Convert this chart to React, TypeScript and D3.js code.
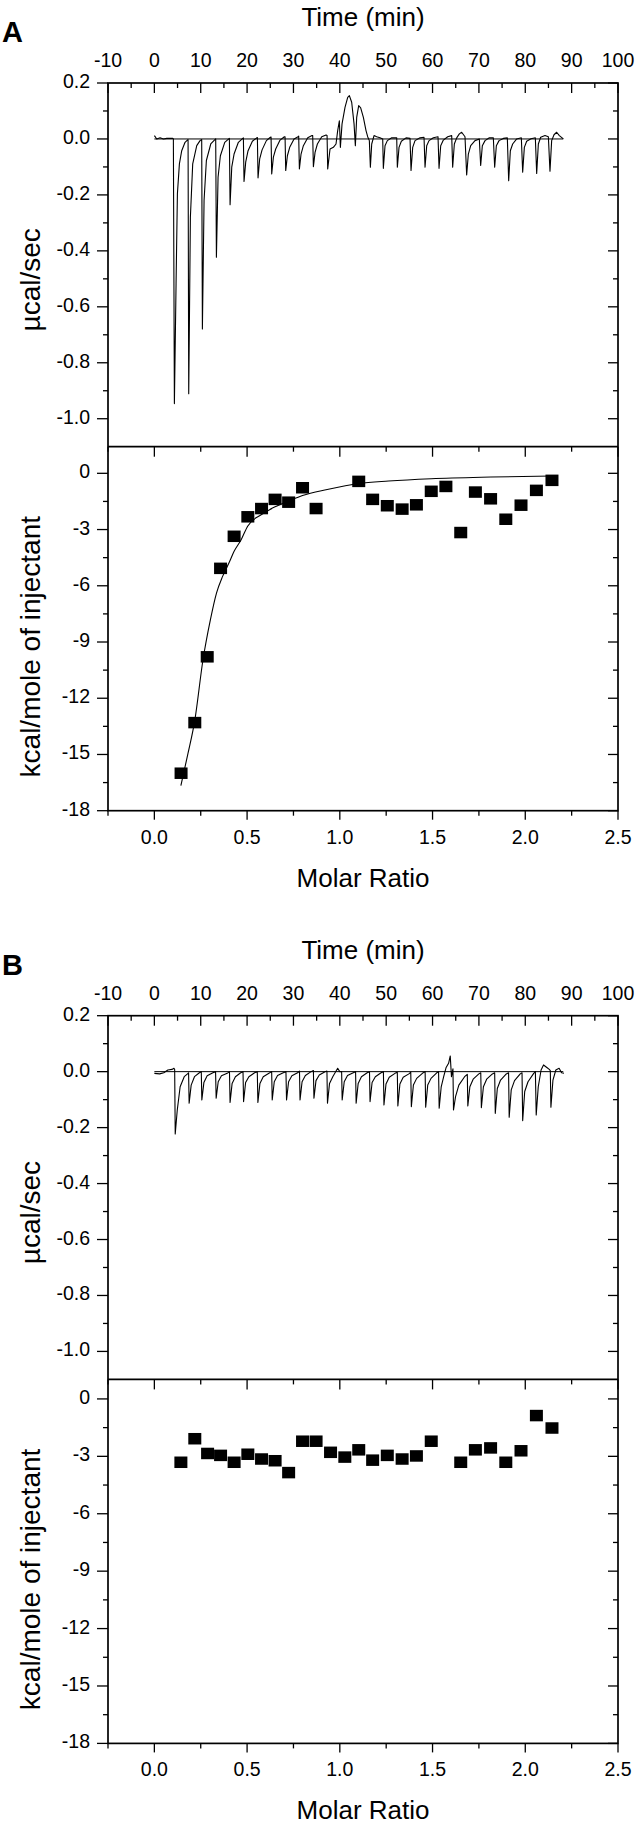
import React from 'react';
import * as d3 from 'd3';

// ---------- tick labels ----------
const timeTickLabels = [-10, 0, 10, 20, 30, 40, 50, 60, 70, 80, 90, 100];
const powerTickLabels = [0.2, 0.0, -0.2, -0.4, -0.6, -0.8, -1.0];
const heatTickLabels = [0, -3, -6, -9, -12, -15, -18];
const ratioTickLabels = [0.0, 0.5, 1.0, 1.5, 2.0, 2.5];

// ---------- panel A raw thermogram [time (min), µcal/sec] ----------
const thermoA: [number, number][] = [
  [0.01, 0.012], [0.51, 0.0], [1.23, 0.004], [1.95, 0.0], [2.67, 0.002], [3.39, 0.002], [3.96, 0.002],
  [4.1, 0.0], [4.32, -0.946], [4.68, -0.518], [4.97, -0.196], [5.4, -0.089], [5.9, -0.042], [6.62, -0.012], [7.12, -0.004],
  [7.27, -0.002], [7.41, -0.911], [7.77, -0.28], [8.27, -0.089], [9.14, -0.024], [9.85, -0.006],
  [10.21, -0.002], [10.36, -0.679], [10.72, -0.22], [11.22, -0.077], [12.16, -0.018], [12.95, -0.004],
  [13.23, 0.0], [13.38, -0.423], [13.74, -0.137], [14.24, -0.06], [15.18, -0.012], [16.04, 0.0],
  [16.18, 0.002], [16.33, -0.235], [16.69, -0.101], [17.19, -0.054], [18.12, -0.012], [19.06, 0.002],
  [19.2, 0.004], [19.34, -0.152], [19.7, -0.083], [20.21, -0.042], [21.14, -0.008], [22.08, 0.004],
  [22.22, 0.005], [22.36, -0.139], [22.72, -0.071], [23.23, -0.039], [24.16, -0.006], [25.02, 0.006],
  [25.17, 0.007], [25.31, -0.125], [25.67, -0.065], [26.17, -0.036], [27.11, -0.004], [28.04, 0.008],
  [28.19, 0.008], [28.33, -0.113], [28.69, -0.06], [29.19, -0.03], [30.13, 0.0], [30.99, 0.008],
  [31.13, 0.01], [31.28, -0.107], [31.64, -0.054], [32.14, -0.024], [33.08, 0.004], [34.01, 0.012],
  [34.15, 0.012], [34.3, -0.099], [34.66, -0.048], [35.16, -0.018], [36.1, 0.008], [37.03, 0.014],
  [37.25, 0.012], [37.39, -0.107], [37.89, -0.036], [38.61, -0.03], [39.18, -0.018], [39.54, 0.03],
  [39.9, 0.065], [40.12, -0.03], [40.48, 0.054], [41.12, 0.113], [41.7, 0.149], [42.06, 0.155],
  [42.56, 0.131], [43.07, 0.054], [43.35, -0.024], [43.64, 0.077], [44.07, 0.119], [44.5, 0.111],
  [45.08, 0.077], [45.65, 0.03], [46.01, 0.008], [46.37, -0.006],
  [46.59, -0.101], [46.88, -0.018], [47.38, 0.012], [47.95, 0.008], [48.67, 0.004], [49.25, 0.0],
  [49.39, -0.105], [49.75, -0.024], [50.25, -0.006], [51.19, 0.004], [52.27, 0.004],
  [52.41, -0.101], [52.77, -0.03], [53.27, -0.008], [54.28, 0.004], [55.14, 0.002],
  [55.36, -0.113], [55.72, -0.03], [56.22, -0.006], [57.3, 0.004], [58.16, 0.006],
  [58.38, -0.101], [58.74, -0.024], [59.24, -0.006], [60.17, 0.004], [61.18, 0.008],
  [61.4, -0.105], [61.76, -0.024], [62.33, -0.004], [63.27, 0.008], [64.13, 0.012],
  [64.34, -0.101], [64.7, -0.018], [65.21, 0.004], [65.78, 0.018], [66.28, 0.024], [67.0, 0.008],
  [67.36, -0.129], [67.72, -0.054], [68.23, -0.024], [69.16, -0.006], [70.09, 0.0],
  [70.38, -0.095], [70.74, -0.024], [71.32, -0.006], [72.25, 0.004], [73.11, 0.004],
  [73.4, -0.101], [73.76, -0.024], [74.34, -0.006], [75.27, 0.002], [76.13, 0.004],
  [76.42, -0.149], [76.78, -0.042], [77.28, -0.018], [78.15, 0.0], [79.15, 0.004],
  [79.44, -0.119], [79.8, -0.03], [80.3, -0.008], [81.24, 0.001], [82.17, 0.004],
  [82.46, -0.123], [82.82, -0.018], [83.32, 0.006], [84.26, 0.012], [84.98, 0.008],
  [85.33, -0.115], [85.69, -0.006], [86.2, 0.015], [86.77, 0.024], [87.35, 0.012], [88.21, 0.0],
];

// ---------- panel B raw thermogram ----------
const thermoB: [number, number][] = [
  [0.0, -0.006], [1.15, -0.008], [2.03, -0.004], [2.91, 0.006], [3.79, 0.008], [4.23, 0.012], [4.38, 0.008],
  [4.5, -0.223], [4.94, -0.137], [5.56, -0.054], [6.44, -0.018], [7.15, -0.008], [7.38, -0.004],
  [7.5, -0.113], [7.94, -0.048], [8.65, -0.018], [9.71, -0.004], [10.12, 0.0],
  [10.24, -0.101], [10.68, -0.039], [11.39, -0.015], [12.62, -0.004], [13.2, 0.0],
  [13.33, -0.095], [13.77, -0.036], [14.47, -0.015], [15.71, -0.006], [16.2, 0.0],
  [16.33, -0.11], [16.77, -0.042], [17.48, -0.018], [18.62, -0.004], [19.12, 0.0],
  [19.24, -0.107], [19.68, -0.039], [20.39, -0.018], [21.62, -0.004], [22.2, 0.0],
  [22.33, -0.11], [22.77, -0.042], [23.48, -0.018], [24.71, -0.006], [25.3, 0.0],
  [25.42, -0.101], [25.86, -0.036], [26.57, -0.014], [27.8, -0.004], [28.38, 0.0],
  [28.51, -0.101], [28.95, -0.036], [29.66, -0.015], [30.89, -0.004], [31.3, 0.002],
  [31.42, -0.101], [31.86, -0.036], [32.57, -0.014], [33.81, 0.0], [34.3, 0.004],
  [34.42, -0.095], [34.86, -0.032], [35.57, -0.012], [36.81, 0.0], [37.22, 0.002],
  [37.34, -0.113], [37.78, -0.042], [38.48, -0.018], [39.54, 0.012], [39.98, 0.0], [40.39, 0.0],
  [40.51, -0.101], [40.95, -0.036], [41.66, -0.014], [42.9, -0.004], [43.4, 0.0],
  [43.52, -0.113], [43.96, -0.042], [44.66, -0.018], [45.9, -0.004], [46.4, 0.0],
  [46.52, -0.107], [46.96, -0.039], [47.66, -0.018], [48.9, -0.004], [49.4, 0.0],
  [49.52, -0.119], [49.96, -0.044], [50.66, -0.02], [51.9, -0.006], [52.4, -0.002],
  [52.52, -0.123], [52.96, -0.044], [53.67, -0.02], [54.9, -0.008], [55.3, -0.002],
  [55.43, -0.125], [55.87, -0.048], [56.58, -0.024], [57.81, -0.006], [58.4, 0.0],
  [58.52, -0.127], [58.96, -0.048], [59.67, -0.024], [60.9, -0.004], [61.3, 0.0],
  [61.43, -0.131], [61.87, -0.054], [62.4, -0.018], [62.93, 0.015], [63.46, 0.03], [63.82, 0.056],
  [64.08, -0.018], [64.4, 0.01],
  [64.52, -0.137], [64.96, -0.089], [65.67, -0.048], [66.91, -0.018], [67.35, -0.012], [67.5, -0.01],
  [67.61, -0.123], [68.05, -0.054], [68.76, -0.027], [69.99, -0.008], [70.4, -0.004],
  [70.53, -0.129], [70.97, -0.054], [71.67, -0.027], [72.91, -0.008], [73.4, -0.004],
  [73.53, -0.149], [73.97, -0.06], [74.67, -0.03], [75.91, -0.008], [76.4, -0.004],
  [76.53, -0.163], [76.97, -0.065], [77.68, -0.032], [78.91, -0.008], [79.3, -0.004],
  [79.44, -0.175], [79.88, -0.071], [80.59, -0.036], [81.82, -0.006], [82.18, 0.0],
  [82.36, -0.155], [82.8, -0.054], [83.41, 0.006], [83.94, 0.024], [84.65, 0.015], [85.18, 0.008], [85.4, 0.004],
  [85.53, -0.127], [85.97, -0.03], [86.59, 0.006], [87.3, 0.012], [87.83, -0.004], [88.36, -0.006],
];

// ---------- integrated heats ----------
const ratioA = [0.144, 0.218, 0.285, 0.357, 0.43, 0.504, 0.578, 0.651, 0.724, 0.799, 0.872, 1.102, 1.177, 1.256, 1.336, 1.413, 1.493, 1.572, 1.652, 1.731, 1.813, 1.895, 1.977, 2.06, 2.144];
const heatA = [-16.0, -13.3, -9.79, -5.07, -3.36, -2.32, -1.88, -1.39, -1.54, -0.77, -1.88, -0.43, -1.39, -1.73, -1.91, -1.68, -0.96, -0.7, -3.16, -1.0, -1.36, -2.45, -1.7, -0.91, -0.375];

const fitRatioA = [0.143, 0.181, 0.218, 0.262, 0.302, 0.335, 0.368, 0.402, 0.43, 0.468, 0.503, 0.578, 0.651, 0.724, 0.799, 0.932, 1.102, 1.263, 1.493, 1.815, 2.144];
const fitHeatA = [-16.66, -14.96, -13.18, -9.96, -7.82, -6.39, -5.5, -4.79, -4.16, -3.54, -2.82, -2.2, -1.79, -1.48, -1.18, -0.86, -0.54, -0.41, -0.29, -0.2, -0.14];

const ratioB = [0.143, 0.218, 0.287, 0.357, 0.43, 0.504, 0.578, 0.651, 0.724, 0.799, 0.872, 0.95, 1.027, 1.102, 1.177, 1.256, 1.336, 1.413, 1.493, 1.652, 1.731, 1.813, 1.895, 1.977, 2.06, 2.144];
const heatB = [-3.31, -2.08, -2.85, -2.95, -3.31, -2.89, -3.14, -3.23, -3.85, -2.21, -2.21, -2.79, -3.04, -2.66, -3.2, -2.95, -3.14, -2.98, -2.21, -3.31, -2.66, -2.56, -3.31, -2.71, -0.87, -1.52];

// ---------- layout ----------
const W = 641;
const H = 1826;
const LEFT = 108;
const RIGHT = 618;
const PANEL_H = 363.7;
const FONT = "'Liberation Sans', Arial, Helvetica, sans-serif";
const TICK_FS = 19.5;
const TITLE_FS = 26;
const YTITLE_FS = 28;

type PanelProps = {
  top: number;
  letter: string;
  thermo: [number, number][];
  ratio: number[];
  heat: number[];
  fitR?: number[];
  fitH?: number[];
  heatTop: number;
};

function Panel({ top, letter, thermo, ratio, heat, fitR, fitH, heatTop }: PanelProps) {
  const mid = top + PANEL_H;
  const bottom = mid + PANEL_H + 0.3;
  const xT = d3.scaleLinear().domain([-10, 100]).range([LEFT, RIGHT]);
  const yP = d3.scaleLinear().domain([-1.1, 0.2]).range([mid, top]);
  const xR = d3.scaleLinear().domain([-0.25, 2.5]).range([LEFT, RIGHT]);
  const yH = d3.scaleLinear().domain([-18, heatTop]).range([bottom, mid]);

  const timeTicks = d3.range(-10, 100.001, 5);
  const powerTicks = d3.range(-10, 3, 1).map((d) => d / 10);
  const heatTicks = d3.range(-18, heatTop + 0.001, 1.5);
  const ratioTicks = d3.range(-0.25, 2.5001, 0.25);

  const thermoLine = d3
    .line<[number, number]>()
    .x((d) => xT(d[0]))
    .y((d) => yP(d[1]));
  const fitLine = d3
    .line<number>()
    .x((d) => xR(d))
    .y((_, i) => yH((fitH as number[])[i]))
    .curve(d3.curveMonotoneX);

  const isMajor = (v: number, step: number) => Math.abs(v / step - Math.round(v / step)) < 1e-6;
  const tk = { stroke: '#000', strokeWidth: 1.3 };
  const mw = 13;
  const mh = 11.5;

  return (
    <g>
      <text x={2} y={top - 41} fontFamily={FONT} fontWeight="bold" fontSize={29} fill="#000">
        {letter}
      </text>
      <text x={(LEFT + RIGHT) / 2} y={top - 57} textAnchor="middle" fontFamily={FONT} fontSize={TITLE_FS} fill="#000">
        Time (min)
      </text>
      {/* top time axis ticks (inward) */}
      {timeTicks.map((t) => (
        <line key={'tt' + t} x1={xT(t)} x2={xT(t)} y1={top} y2={top + (isMajor(t, 10) ? 10 : 5)} {...tk} />
      ))}
      {timeTickLabels.map((t) => (
        <text key={'tl' + t} x={xT(t)} y={top - 16} textAnchor="middle" fontFamily={FONT} fontSize={TICK_FS} fill="#000">
          {t}
        </text>
      ))}
      {/* power axis ticks */}
      {powerTicks.map((v) => {
        const maj = isMajor(v, 0.2);
        return (
          <g key={'pt' + v}>
            <line x1={LEFT - (maj ? 11 : 5)} x2={LEFT} y1={yP(v)} y2={yP(v)} {...tk} />
            <line x1={RIGHT - (maj ? 10 : 5)} x2={RIGHT} y1={yP(v)} y2={yP(v)} {...tk} />
          </g>
        );
      })}
      {powerTickLabels.map((v) => (
        <text key={'pl' + v} x={90} y={yP(v) + 5} textAnchor="end" fontFamily={FONT} fontSize={TICK_FS} fill="#000">
          {v.toFixed(1)}
        </text>
      ))}
      <text
        transform={`translate(40, ${(top + mid) / 2 + 15}) rotate(-90)`}
        textAnchor="middle"
        fontFamily={FONT}
        fontSize={YTITLE_FS}
        fill="#000"
      >
        µcal/sec
      </text>

      {/* heat axis ticks */}
      {heatTicks.map((v) => {
        const maj = isMajor(v, 3);
        return (
          <g key={'ht' + v}>
            <line x1={LEFT - (maj ? 11 : 5)} x2={LEFT} y1={yH(v)} y2={yH(v)} {...tk} />
            <line x1={RIGHT - (maj ? 10 : 5)} x2={RIGHT} y1={yH(v)} y2={yH(v)} {...tk} />
          </g>
        );
      })}
      {heatTickLabels.map((v) => (
        <text key={'hl' + v} x={90} y={yH(v) + 5} textAnchor="end" fontFamily={FONT} fontSize={TICK_FS} fill="#000">
          {v}
        </text>
      ))}
      <text
        transform={`translate(40, ${(mid + bottom) / 2 + 18}) rotate(-90)`}
        textAnchor="middle"
        fontFamily={FONT}
        fontSize={YTITLE_FS}
        fill="#000"
      >
        kcal/mole of injectant
      </text>

      {/* ratio axis ticks: bottom outward, junction inward */}
      {ratioTicks.map((r) => {
        const maj = isMajor(r, 0.5);
        return (
          <g key={'rt' + r}>
            <line x1={xR(r)} x2={xR(r)} y1={bottom} y2={bottom + (maj ? 9 : 5)} {...tk} />
            <line x1={xR(r)} x2={xR(r)} y1={mid} y2={mid + (maj ? 10 : 5)} {...tk} />
          </g>
        );
      })}
      {ratioTickLabels.map((r) => (
        <text key={'rl' + r} x={xR(r)} y={bottom + 33} textAnchor="middle" fontFamily={FONT} fontSize={TICK_FS} fill="#000">
          {r.toFixed(1)}
        </text>
      ))}
      <text x={(LEFT + RIGHT) / 2} y={bottom + 76} textAnchor="middle" fontFamily={FONT} fontSize={TITLE_FS} fill="#000">
        Molar Ratio
      </text>

      {/* baseline & thermogram */}
      <line x1={xT(0)} x2={xT(88.2)} y1={yP(0)} y2={yP(0)} stroke="#000" strokeWidth={1} />
      <path d={thermoLine(thermo) || ''} fill="none" stroke="#000" strokeWidth={1.1} strokeLinejoin="round" />

      {/* fit */}
      {fitR && fitH && <path d={fitLine(fitR) || ''} fill="none" stroke="#000" strokeWidth={1.1} />}

      {/* markers */}
      {ratio.map((r, i) => (
        <rect key={'m' + i} x={xR(r) - mw / 2} y={yH(heat[i]) - mh / 2} width={mw} height={mh} fill="#000" />
      ))}

      {/* frames */}
      <rect x={LEFT} y={top} width={RIGHT - LEFT} height={bottom - top} fill="none" stroke="#000" strokeWidth={1.7} />
      <line x1={LEFT} x2={RIGHT} y1={mid} y2={mid} stroke="#000" strokeWidth={1.7} />
    </g>
  );
}

export default function App() {
  return (
    <svg
      width={W}
      height={H}
      viewBox={`0 0 ${W} ${H}`}
      style={{ position: 'absolute', left: 0, top: 0, display: 'block', background: '#fff' }}
    >
      <rect x={0} y={0} width={W} height={H} fill="#fff" />
      <Panel top={83} letter="A" thermo={thermoA} ratio={ratioA} heat={heatA} fitR={fitRatioA} fitH={fitHeatA} heatTop={1.42} />
      <Panel top={1015.7} letter="B" thermo={thermoB} ratio={ratioB} heat={heatB} heatTop={1.02} />
    </svg>
  );
}
